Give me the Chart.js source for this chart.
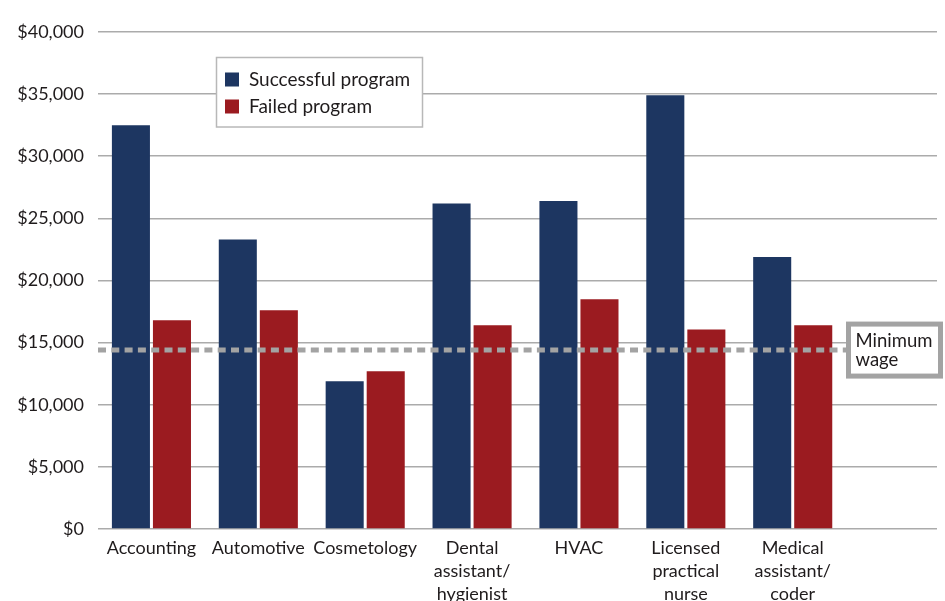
<!DOCTYPE html>
<html>
<head>
<meta charset="utf-8">
<script src="https://cdn.jsdelivr.net/npm/chart.js@4"></script>
<style>
  html, body { margin: 0; padding: 0; background: #ffffff; }
  #wrap { width: 945px; height: 601px; position: relative; }
</style>
</head>
<body>
<div id="wrap"><canvas id="c" width="945" height="601"></canvas></div>
<script>
// ---- Data ----
const categories = [
  ['Accounting'],
  ['Automotive'],
  ['Cosmetology'],
  ['Dental', 'assistant/', 'hygienist'],
  ['HVAC'],
  ['Licensed', 'practical', 'nurse'],
  ['Medical', 'assistant/', 'coder']
];
const successfulProgram = [32500, 23300, 11900, 26200, 26400, 34900, 21900];
const failedProgram = [16800, 17600, 12700, 16400, 18500, 16050, 16400];
const seriesNames = ['Successful program', 'Failed program'];
const minimumWage = 14400;
const minimumWageLabel = ['Minimum', 'wage'];
const yTickValues = [0, 5000, 10000, 15000, 20000, 25000, 30000, 35000, 40000];

// ---- Styling ----
const BLUE = '#1d3661';
const RED = '#9b1b20';
const TEXT = '#1f1b1c';
const FONT = 'Lato, "Open Sans", sans-serif';

const toPoints = arr => arr.map((v, i) => ({ x: i, y: v }));

const overlayPlugin = {
  id: 'overlay',
  afterDatasetsDraw(chart) {
    const ctx = chart.ctx;
    const area = chart.chartArea;
    const y = chart.scales.y;

    // Minimum wage dashed line + label box
    const yPix = y.getPixelForValue(minimumWage);
    const boxOuterLeft = area.right - 91;
    const boxOuterW = 97;
    const boxOuterH = 57;
    ctx.save();
    ctx.strokeStyle = '#a3a3a3';
    ctx.lineWidth = 5;
    ctx.setLineDash([8, 5.3]);
    ctx.beginPath();
    ctx.moveTo(area.left, yPix);
    ctx.lineTo(boxOuterLeft, yPix);
    ctx.stroke();
    ctx.setLineDash([]);
    ctx.fillStyle = '#ffffff';
    ctx.fillRect(boxOuterLeft, yPix - boxOuterH / 2, boxOuterW, boxOuterH);
    ctx.lineWidth = 5;
    ctx.strokeStyle = '#a3a3a3';
    ctx.strokeRect(boxOuterLeft + 2.5, yPix - boxOuterH / 2 + 2.5, boxOuterW - 5, boxOuterH - 5);
    ctx.fillStyle = TEXT;
    ctx.font = '18.5px ' + FONT;
    ctx.textAlign = 'left';
    ctx.textBaseline = 'alphabetic';
    ctx.fillText(minimumWageLabel[0], boxOuterLeft + 9.5, yPix - 3.5);
    ctx.fillText(minimumWageLabel[1], boxOuterLeft + 9.5, yPix + 15.5);
    ctx.restore();

    // Legend box
    const lx = area.left + 118.5, ly = 57.5, lw = 206, lh = 69.5;
    ctx.save();
    ctx.fillStyle = '#ffffff';
    ctx.fillRect(lx, ly, lw, lh);
    ctx.strokeStyle = '#b8b8b8';
    ctx.lineWidth = 1.5;
    ctx.strokeRect(lx, ly, lw, lh);
    ctx.font = '19px ' + FONT;
    ctx.textBaseline = 'middle';
    ctx.textAlign = 'left';
    chart.data.datasets.forEach((ds, i) => {
      const rowY = ly + 22 + i * 27;
      ctx.fillStyle = ds.backgroundColor;
      ctx.fillRect(lx + 8.5, rowY - 7, 14, 14);
      ctx.fillStyle = TEXT;
      ctx.fillText(ds.label, lx + 32.5, rowY);
    });
    ctx.restore();
  }
};

new Chart(document.getElementById('c'), {
  type: 'bar',
  data: {
    datasets: [
      { label: seriesNames[0], data: toPoints(successfulProgram), backgroundColor: BLUE,
        categoryPercentage: 0.768, barPercentage: 0.927 },
      { label: seriesNames[1], data: toPoints(failedProgram), backgroundColor: RED,
        categoryPercentage: 0.768, barPercentage: 0.927 }
    ]
  },
  options: {
    responsive: false,
    animation: false,
    devicePixelRatio: 1,
    layout: { padding: { top: 32, right: 8, bottom: 0, left: 0 } },
    plugins: { legend: { display: false }, tooltip: { enabled: false } },
    scales: {
      x: {
        type: 'linear',
        min: -0.5,
        max: 7.35,
        offset: false,
        grid: { display: false },
        border: { display: false },
        afterFit(scale) { scale.height = 72; },
        ticks: {
          stepSize: 1,
          includeBounds: false,
          autoSkip: false,
          maxRotation: 0,
          padding: 0,
          color: TEXT,
          font: { family: FONT, size: 18, lineHeight: 1.28 },
          callback: v => (Number.isInteger(v) && categories[v]) ? categories[v] : ''
        }
      },
      y: {
        min: 0,
        max: 40000,
        grid: { color: '#ababab', lineWidth: 1.6, drawTicks: false },
        border: { display: false },
        afterFit(scale) { scale.width = 98; },
        afterBuildTicks(scale) { scale.ticks = yTickValues.map(v => ({ value: v })); },
        ticks: {
          padding: 14,
          color: TEXT,
          font: { family: FONT, size: 18 },
          callback: v => '$' + Number(v).toLocaleString('en-US')
        }
      }
    }
  },
  plugins: [overlayPlugin]
});
</script>
</body>
</html>
